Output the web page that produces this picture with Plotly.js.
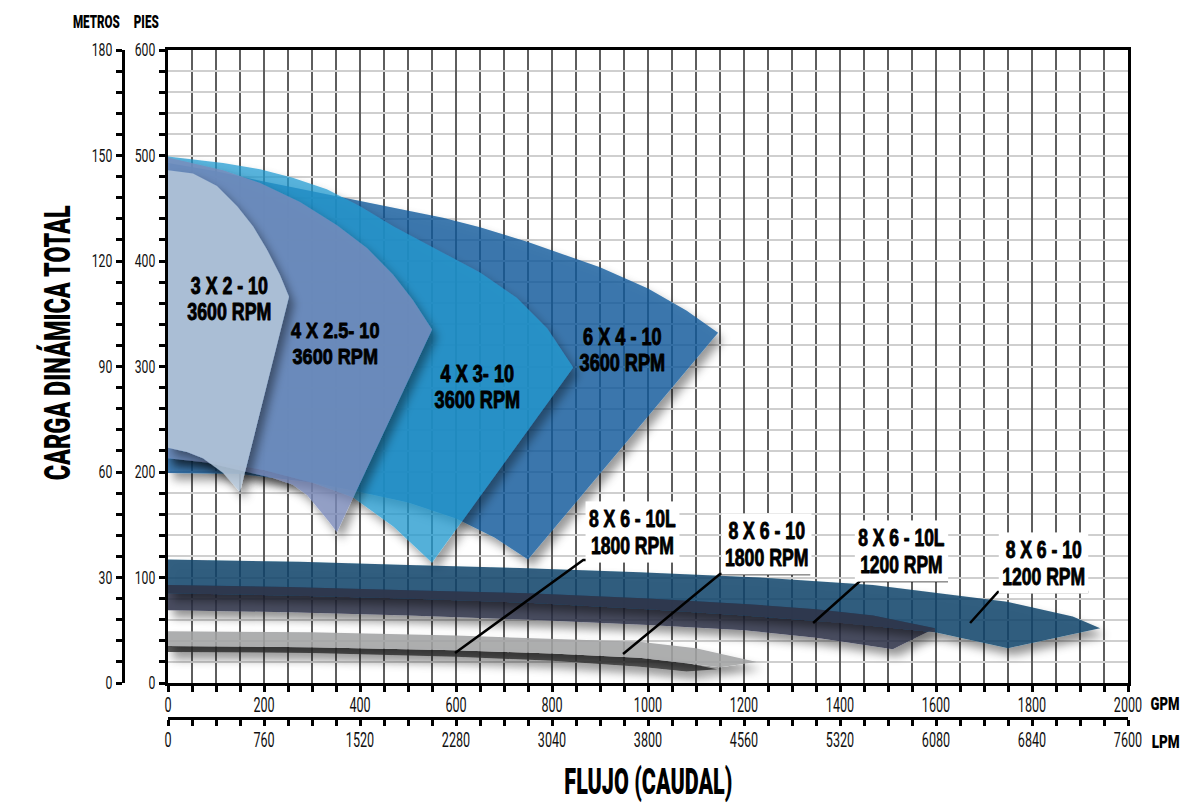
<!DOCTYPE html>
<html>
<head>
<meta charset="utf-8">
<script src="https://cdn.plot.ly/plotly-3.0.1.min.js"></script>
<style>
  html, body { margin: 0; padding: 0; background: #ffffff; }
  #chart { width: 1183px; height: 803px; }
</style>
</head>
<body>
<div id="chart"></div>
<script>
// ---------------- DATA (flow in GPM, head in feet) ----------------
// Upper pump families, 3600 RPM: max-impeller curve (top) and min-impeller curve (bottom)
const pump3x2TopQ = [0, 52, 102, 144, 177, 206, 233, 252];
const pump3x2TopH = [486, 483, 471, 452, 433, 411, 387, 366];
const pump3x2BotQ = [0, 40, 73, 115, 150];
const pump3x2BotH = [223, 219, 213, 199, 181];

const pump4x25TopQ = [0, 115, 192, 275, 352, 415, 469, 510, 550];
const pump4x25TopH = [498, 486, 474, 456, 434, 412, 387, 363, 335];
const pump4x25BotQ = [0, 80, 156, 220, 260, 290, 310, 335, 352];
const pump4x25BotH = [213, 209, 201, 194, 188, 178, 167, 153, 143];

const pump4x3TopQ = [0, 115, 192, 260, 331, 400, 469, 560, 650, 727, 790, 844];
const pump4x3TopH = [499, 493, 487, 479, 468, 452, 433, 411, 389, 365, 336, 299];
const pump4x3BotQ = [0, 100, 200, 300, 385, 470, 550];
const pump4x3BotH = [213, 210, 202, 190, 176, 148, 114];

const pump6x4TopQ = [0, 100, 192, 280, 358, 469, 573, 650, 750, 900, 1000, 1080, 1146];
const pump6x4TopH = [493, 485, 476, 468, 461, 451, 441, 432, 418, 394, 374, 353, 332];
const pump6x4BotQ = [0, 150, 300, 400, 500, 600, 680, 750];
const pump6x4BotH = [199, 198, 190, 181, 171, 156, 138, 117];

// Lower families 8 X 6
const b1200TopQ = [0, 275, 483, 733, 983, 1233, 1469, 1748, 1885, 1942];
const b1200TopH = [117, 115, 112, 109, 105, 100, 93, 77, 63, 52];
const b1200BotQ = [0, 250, 500, 750, 1000, 1200, 1400, 1598, 1750];
const b1200BotH = [85, 83, 80, 76, 70, 64, 57, 48, 33];

const b1200LTopQ = [0, 250, 500, 750, 1000, 1200, 1350, 1469, 1598];
const b1200LTopH = [93, 91, 88, 85, 80, 75, 70, 64, 52];
const b1200LBotQ = [0, 250, 500, 750, 1000, 1200, 1350, 1510];
const b1200LBotH = [69, 67, 64, 60, 55, 50, 43, 32];

const b1800TopQ = [0, 300, 600, 800, 983, 1100, 1227];
const b1800TopH = [49, 48, 45, 42, 39, 33, 20];
const b1800BotQ = [0, 300, 600, 800, 983, 1080, 1150];
const b1800BotH = [35, 34, 31, 28, 24, 19, 15];

const b1800LTopQ = [0, 300, 600, 800, 983, 1080, 1144];
const b1800LTopH = [35, 34, 31, 28, 24, 19, 13];
const b1800LBotQ = [0, 300, 600, 800, 983, 1080];
const b1800LBotH = [29.5, 28.5, 25, 21, 15.5, 11];

// Labels
const upperModels = ['3 X 2 - 10', '4 X 2.5- 10', '4 X 3- 10', '6 X 4 - 10'];
const upperRpm = ['3600 RPM', '3600 RPM', '3600 RPM', '3600 RPM'];
const lowerModels = ['8 X 6 - 10L', '8 X 6 - 10', '8 X 6 - 10L', '8 X 6 - 10'];
const lowerRpm = ['1800 RPM', '1800 RPM', '1200 RPM', '1200 RPM'];

// Axis ranges
const gpmRange = [0, 2000];
const lpmRange = [0, 7600];
const piesRange = [0, 600];
const metrosRange = [0, 180];

// ---------------- BUILD ----------------
const FONT = 'Roboto, "Liberation Sans", "DejaVu Sans", sans-serif';
const LABEL_FONT = '"Liberation Sans", Arimo, Roboto, sans-serif';
const W = 1183, H = 803, ML = 80, MR = 55, MT = 50, MB = 40;
const PW = W - ML - MR, PH = H - MT - MB;
const pxX = x => (x - ML) / PW;
const pxY = y => (H - MB - y) / PH;

function outline(tq, th, bq, bh) {
  return { x: tq.concat(bq.slice().reverse()), y: th.concat(bh.slice().reverse()) };
}
function interp(xs, ys, x) {
  if (x <= xs[0]) return ys[0];
  for (let i = 1; i < xs.length; i++) {
    if (x <= xs[i]) {
      const t = (x - xs[i - 1]) / (xs[i] - xs[i - 1]);
      return ys[i - 1] + t * (ys[i] - ys[i - 1]);
    }
  }
  return ys[ys.length - 1];
}
function poly(o, color, shadow) {
  return {
    type: 'scatter', mode: 'lines', x: o.x, y: o.y, name: shadow ? 'shadow' : 'flat',
    fill: 'toself', fillcolor: color, line: { width: 0, color: 'rgba(0,0,0,0)' },
    hoverinfo: 'skip', showlegend: false, xaxis: 'x', yaxis: 'y'
  };
}

const ovTop = b1200LTopH;
const ovBot = b1200LTopQ.map((q, i) => Math.min(ovTop[i], interp(b1200BotQ, b1200BotH, q)));
const overlapPoly = outline(b1200LTopQ, ovTop, b1200LTopQ, ovBot);

const traces = [
  poly(outline(pump6x4TopQ, pump6x4TopH, pump6x4BotQ, pump6x4BotH), 'rgba(11,88,154,0.8)', true),
  poly(outline(pump4x3TopQ, pump4x3TopH, pump4x3BotQ, pump4x3BotH), 'rgba(36,155,208,0.75)', true),
  poly(outline(pump4x25TopQ, pump4x25TopH, pump4x25BotQ, pump4x25BotH), 'rgba(123,139,186,0.8)', true),
  poly(outline(pump3x2TopQ, pump3x2TopH, pump3x2BotQ, pump3x2BotH), 'rgba(181,199,218,0.86)', true),
  poly(outline(b1200LTopQ, b1200LTopH, b1200LBotQ, b1200LBotH), 'rgba(42,46,70,0.85)', true),
  poly(outline(b1200TopQ, b1200TopH, b1200BotQ, b1200BotH), 'rgba(10,67,106,0.85)', true),
  poly(overlapPoly, 'rgba(57,51,67,0.7)', false),
  poly(outline(b1800LTopQ, b1800LTopH, b1800LBotQ, b1800LBotH), 'rgba(60,60,60,0.85)', true),
  poly(outline(b1800TopQ, b1800TopH, b1800BotQ, b1800BotH), 'rgba(162,163,164,0.88)', true),
  { type: 'scatter', x: [lpmRange[0]], y: [piesRange[0]], xaxis: 'x2', yaxis: 'y', mode: 'markers',
    marker: { opacity: 0 }, hoverinfo: 'skip', showlegend: false },
  { type: 'scatter', x: [gpmRange[0]], y: [metrosRange[0]], xaxis: 'x', yaxis: 'y2', mode: 'markers',
    marker: { opacity: 0 }, hoverinfo: 'skip', showlegend: false }
];

const xTickFont = { family: FONT, size: 21, color: '#111' };
const yTickFont = { family: FONT, size: 18.5, color: '#111' };
const VGRID = '#5e5e5e';
const HGRID = '#cfcfcf';
const tk = { ticks: 'outside', ticklen: 6, tickwidth: 3, tickcolor: '#000' };

const layout = {
  width: W, height: H,
  margin: { l: ML, r: MR, t: MT, b: MB, pad: 0 },
  paper_bgcolor: '#ffffff', plot_bgcolor: '#ffffff',
  showlegend: false,
  xaxis: Object.assign({
    domain: [pxX(168), 1], range: gpmRange, anchor: 'y', tick0: 0, dtick: 200,
    showline: true, linewidth: 3, linecolor: '#000', mirror: true,
    showgrid: true, gridcolor: VGRID, gridwidth: 1.2, zeroline: false,
    minor: Object.assign({ dtick: 50, showgrid: true, gridcolor: VGRID, gridwidth: 1.2 }, tk),
    tickfont: xTickFont, ticklabelstandoff: -5, fixedrange: true
  }, tk),
  xaxis2: Object.assign({
    overlaying: 'x', anchor: 'free', position: pxY(718), side: 'bottom', range: lpmRange,
    tick0: 0, dtick: 760, showline: true, linewidth: 3, linecolor: '#000', showgrid: false, zeroline: false,
    minor: Object.assign({ dtick: 190, showgrid: false }, tk),
    tickfont: xTickFont, ticklabelstandoff: -4, fixedrange: true
  }, tk),
  yaxis: Object.assign({
    domain: [pxY(683), 1], range: piesRange, anchor: 'x', tick0: 0, dtick: 100,
    showline: true, linewidth: 3, linecolor: '#000', mirror: true,
    showgrid: true, gridcolor: HGRID, gridwidth: 2, zeroline: false,
    minor: Object.assign({ dtick: 20, showgrid: true, gridcolor: HGRID, gridwidth: 2 }, tk),
    tickfont: yTickFont, fixedrange: true
  }, tk),
  yaxis2: Object.assign({
    overlaying: 'y', anchor: 'free', position: pxX(123), side: 'left', range: metrosRange,
    tick0: 0, dtick: 30, showline: true, linewidth: 3, linecolor: '#000', showgrid: false, zeroline: false,
    minor: Object.assign({ dtick: 6, showgrid: false }, tk),
    tickfont: yTickFont, fixedrange: true
  }, tk),
  annotations: [],
  shapes: []
};

// per-annotation rendering tweaks: target line widths (px) and line pitch (em)
const annStyle = [];
const heavy = size => ({ family: FONT, size: size, color: '#000', weight: 900 });
const labelFont = size => ({ family: LABEL_FONT, size: size, color: '#000', weight: 'bold' });

function paperText(text, x, y, size, target, extra) {
  layout.annotations.push(Object.assign({
    text: text, xref: 'paper', yref: 'paper', x: pxX(x), y: pxY(y),
    showarrow: false, font: heavy(size), xanchor: 'center', yanchor: 'middle'
  }, extra || {}));
  annStyle.push({ widths: [target], pitch: null, size: size, stroke: 0 });
}
paperText('METROS', 96, 22, 18, 47);
paperText('PIES', 146, 22, 18, 25);
paperText('GPM', 1165, 703, 19, 29);
paperText('LPM', 1165, 741, 19, 28);
paperText('FLUJO (CAUDAL)', 648, 781, 37, 168);
paperText('CARGA DINÁMICA TOTAL', 57, 343, 37, 275, { textangle: -90 });

function labelText(l1, l2, pos, size, widths, pitch, extra) {
  layout.annotations.push(Object.assign({
    text: l1 + '<br>' + l2, xref: 'x', yref: 'y', x: pos[0], y: pos[1], showarrow: false,
    font: labelFont(size), align: 'center', xanchor: 'center', yanchor: 'middle'
  }, extra || {}));
  annStyle.push({ widths: widths, pitch: pitch, size: size, stroke: 0.9 });
}

// Upper labels (block centre in data coords GPM, ft)
const upperPos = [[128.5, 364], [348, 322.5], [644, 281], [946, 316]];
const upperW = [[78, 83], [90, 84], [74, 85], [80, 84]];
upperModels.forEach((m, i) => labelText(m, upperRpm[i], upperPos[i], 23, upperW[i], 1.14));

// Lower labels with white boxes, underline + leader line
const lowerPos = [[968, 143.5], [1246, 131.3], [1529, 124.7], [1823, 114.2]];
const lowerW = [[88, 82], [79, 81], [88, 81], [78, 81]];
const leaderPts = [
  { tip: [598, 28.4], a: [865, 116.6], b: [1063, 116.6] },
  { tip: [948, 27.5], a: [1150, 103.3], b: [1338, 103.3] },
  { tip: [1344, 56.9], a: [1442, 96.7], b: [1625, 96.7] },
  { tip: [1671, 56.9], a: [1729, 86.3], b: [1917, 86.3] }
];
lowerModels.forEach((m, i) => {
  labelText(m, lowerRpm[i], lowerPos[i], 24, lowerW[i], 1.14, { bgcolor: '#ffffff', borderpad: 3 });
  const p = leaderPts[i];
  layout.shapes.push({
    type: 'path', xref: 'x', yref: 'y', layer: 'above',
    path: 'M ' + p.tip[0] + ',' + p.tip[1] + ' L ' + p.a[0] + ',' + p.a[1] + ' L ' + p.b[0] + ',' + p.b[1],
    line: { color: '#000', width: 2.5 }
  });
});

const gd = document.getElementById('chart');
Plotly.newPlot(gd, traces, layout, { staticPlot: true, displayModeBar: false }).then(() => {
  const NS = 'http://www.w3.org/2000/svg';
  // drop shadow filter for the coverage areas
  const defs = gd.querySelector('svg.main-svg defs');
  const f = document.createElementNS(NS, 'filter');
  f.setAttribute('id', 'softshadow');
  f.setAttribute('filterUnits', 'userSpaceOnUse');
  f.setAttribute('x', '-100'); f.setAttribute('y', '-100');
  f.setAttribute('width', '1400'); f.setAttribute('height', '1000');
  f.innerHTML =
    '<feGaussianBlur in="SourceAlpha" stdDeviation="5" result="b"/>' +
    '<feOffset in="b" dx="5" dy="7" result="o"/>' +
    '<feComposite in="o" in2="SourceAlpha" operator="out" result="s"/>' +
    '<feColorMatrix in="s" type="matrix" values="0 0 0 0 0  0 0 0 0 0  0 0 0 0 0  0 0 0 0.5 0" result="s2"/>' +
    '<feMerge><feMergeNode in="s2"/><feMergeNode in="SourceGraphic"/></feMerge>';
  defs.appendChild(f);
  gd.querySelectorAll('.scatterlayer .trace').forEach((tr, i) => {
    if (traces[i] && traces[i].name === 'shadow') {
      tr.querySelectorAll('path.js-fill').forEach(p => p.setAttribute('filter', 'url(#softshadow)'));
    }
  });
  // condensed text: horizontal scale about each text's anchor point
  function condense(t, k, dy) {
    const ax = parseFloat(t.getAttribute('x')) || 0;
    const prev = t.getAttribute('transform') || '';
    t.setAttribute('transform', prev + ' translate(0,' + (dy || 0).toFixed(2) + ') translate(' + ax + ',0) scale(' +
      k.toFixed(4) + ',1) translate(' + (-ax) + ',0)');
  }
  gd.querySelectorAll('.xtick text, .x2tick text').forEach(t => condense(t, 0.6));
  gd.querySelectorAll('.ytick text, .y2tick text').forEach(t => condense(t, 0.66));
  gd.querySelectorAll('g.annotation').forEach(g => {
    const idx = +g.getAttribute('data-index');
    const st = annStyle[idx];
    const t = g.querySelector('text.annotation-text');
    if (!t || !st) return;
    const lines = t.querySelectorAll('tspan.line');
    let k, shift = 0;
    if (lines.length >= 2 && st.pitch) {
      const ks = [];
      lines.forEach((ln, j) => {
        const n = ln.getComputedTextLength();
        if (n > 0 && st.widths[j]) ks.push(st.widths[j] / n);
      });
      k = ks.reduce((a, b) => a + b, 0) / ks.length;
      lines[1].setAttribute('dy', st.pitch + 'em');
      const d = (1.3 - st.pitch) * st.size;
      shift = d / 2;
      const r = g.querySelector('rect.bg');
      if (r && r.getAttribute('height')) {
        r.setAttribute('y', (+r.getAttribute('y') + d / 2).toFixed(2));
        r.setAttribute('height', Math.max(0, +r.getAttribute('height') - d).toFixed(2));
      }
    } else {
      const n = t.getComputedTextLength();
      if (!(n > 0)) return;
      k = st.widths[0] / n;
    }
    const r = g.querySelector('rect.bg');
    if (r && r.getAttribute('width')) {
      const w = +r.getAttribute('width');
      const nw = w * k + 6 * (1 - k);
      r.setAttribute('x', (+r.getAttribute('x') + (w - nw) / 2).toFixed(2));
      r.setAttribute('width', nw.toFixed(2));
    }
    if (st.stroke) {
      t.style.stroke = '#000';
      t.style.strokeWidth = st.stroke + 'px';
      t.style.strokeLinejoin = 'round';
    }
    condense(t, k, shift);
  });
});
</script>
</body>
</html>
